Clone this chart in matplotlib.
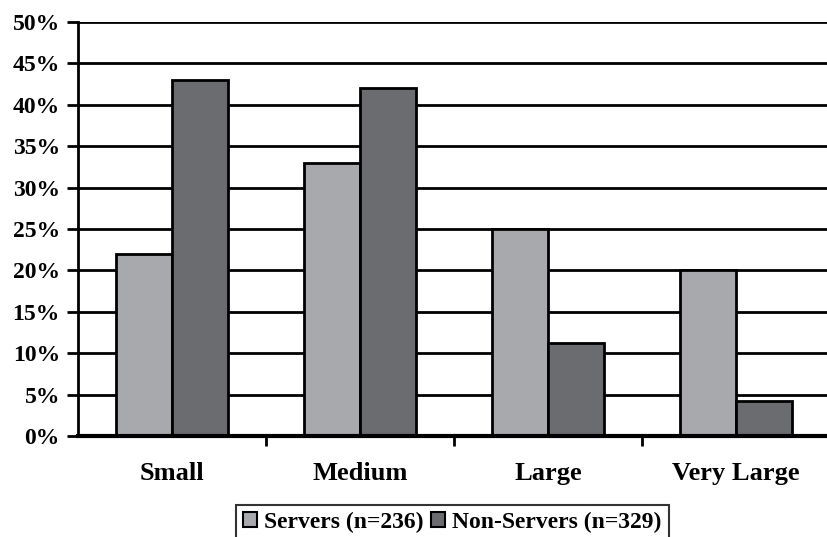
import numpy as np
import matplotlib.pyplot as plt
from matplotlib.patches import Patch

categories = ["Small", "Medium", "Large", "Very Large"]
servers = [22, 33, 25, 20]
non_servers = [43, 42, 11.2, 4.2]
labels = ["Servers (n=236)", "Non-Servers (n=329)"]
yticks = [0, 5, 10, 15, 20, 25, 30, 35, 40, 45, 50]

light = "#a8a9ad"
dark = "#6b6c70"

plt.rcParams['font.family'] = ['Liberation Serif', 'DejaVu Serif']
plt.rcParams['font.weight'] = 'bold'

fig = plt.figure(figsize=(8.27, 5.37), dpi=100)
ax = fig.add_axes([78 / 827, 101 / 537, 752 / 827, 414 / 537])

x = np.arange(len(categories))
w = 0.298
ax.bar(x - w / 2, servers, w, color=light, edgecolor="black", linewidth=2, zorder=3)
ax.bar(x + w / 2, non_servers, w, color=dark, edgecolor="black", linewidth=2, zorder=3)

ax.set_xlim(-0.5, 3.5)
ax.set_ylim(0, 50)
ax.set_yticks(yticks)
ax.set_yticklabels([f"{t}%" for t in yticks], fontsize=17, fontweight="bold")
for t in yticks[1:]:
    ax.axhline(t, color="black", linewidth=2, zorder=1)

# category labels between the tick marks
ax.set_xticks(x)
ax.set_xticklabels(categories, fontsize=19, fontweight="bold")
ax.tick_params(axis="x", length=0, pad=19)
ax.set_xticks(x[:-1] + 0.5, minor=True)
ax.tick_params(axis="x", which="minor", length=7, width=2, direction="out")
ax.tick_params(axis="y", length=8, width=2, direction="out", pad=5)

for s in ["top", "right"]:
    ax.spines[s].set_visible(False)
ax.spines["left"].set_linewidth(2)
ax.spines["bottom"].set_linewidth(3)
ax.spines["bottom"].set_zorder(4)

handles = [Patch(facecolor=light, edgecolor="black", linewidth=1.5),
           Patch(facecolor=dark, edgecolor="black", linewidth=1.5)]
leg = fig.legend(handles, labels, ncol=2, loc="upper left",
                 bbox_to_anchor=(236 / 827, 1 - 505 / 537),
                 prop={'size': 17, 'weight': 'bold'}, frameon=True, fancybox=False,
                 handlelength=0.6, handleheight=0.6, handletextpad=0.3,
                 columnspacing=0.3, borderpad=0.3, borderaxespad=0)
leg.get_frame().set_edgecolor("black")
leg.get_frame().set_linewidth(1.5)

fig.savefig("out.png", dpi=100)
